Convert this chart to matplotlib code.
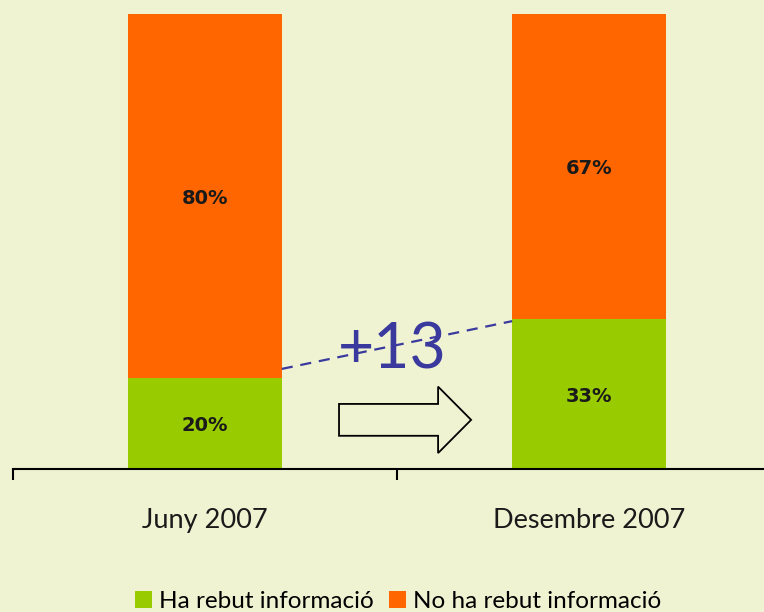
import matplotlib
matplotlib.use("Agg")
import matplotlib.pyplot as plt
from matplotlib.patches import FancyArrow

# survey values (%)
periods = ["Juny 2007", "Desembre 2007"]
rebut = [20, 33]
no_rebut = [80, 67]
series_names = ["Ha rebut informació", "No ha rebut informació"]
diff_label = "+13"

green = "#99CC00"
orange = "#FF6600"
bg = "#F0F3D2"
blue = "#3A3A9E"

fig = plt.figure(figsize=(7.64, 6.12), dpi=100, facecolor=bg)
ax = fig.add_axes([13 / 764, 143 / 612, 751 / 764, 455 / 612])
ax.set_facecolor(bg)

x = list(range(len(periods)))
b1 = ax.bar(x, rebut, width=0.4, color=green, label=series_names[0])
b2 = ax.bar(x, no_rebut, width=0.4, bottom=rebut, color=orange, label=series_names[1])

for i in x:
    ax.text(i, rebut[i] / 2 - 0.5, f"{rebut[i]}%", ha="center", va="center",
            fontsize=14, fontweight="bold", color="#1a1a1a", family="DejaVu Sans")
    ax.text(i, rebut[i] + no_rebut[i] / 2 - 0.5, f"{no_rebut[i]}%", ha="center", va="center",
            fontsize=14, fontweight="bold", color="#1a1a1a", family="DejaVu Sans")

# dashed line between the two green tops
ax.plot([0.2, 0.8], [rebut[0] + 2, rebut[1] - 0.5], ls=(0, (5, 3.5)), lw=1.6, color=blue)
ax.text(0.487, 26.0, diff_label, ha="center", va="center", fontsize=45,
        color=blue, family="Lato")

arrow = FancyArrow(0.349, 10.8, 0.344, 0, width=7.0, head_width=14.6,
                   head_length=0.086, length_includes_head=True,
                   facecolor=bg, edgecolor="black", lw=1.3)
ax.add_patch(arrow)

for s in ["top", "left", "right"]:
    ax.spines[s].set_visible(False)
ax.spines["bottom"].set_linewidth(1.5)
ax.set_yticks([])
ax.set_xticks(x)
ax.set_xticklabels(periods, fontsize=19.5, family="Lato", color="#1a1a1a")
ax.set_xticks([-0.5, 0.5, 1.5], minor=True)
ax.tick_params(axis="x", which="major", length=0, pad=28)
ax.tick_params(axis="x", which="minor", length=8, width=1.5, direction="out")
ax.set_xlim(-0.5, -0.5 + 751 / 384)
ax.set_ylim(0, 100)

fig.legend(handles=[b1, b2], loc="lower center", bbox_to_anchor=(0.521, -0.035),
           ncol=2, frameon=False, handlelength=0.7, handleheight=0.7,
           handletextpad=0.3, columnspacing=0.6,
           prop={"family": "Lato", "size": 17.5})

fig.savefig("out.png", dpi=100, facecolor=bg)
